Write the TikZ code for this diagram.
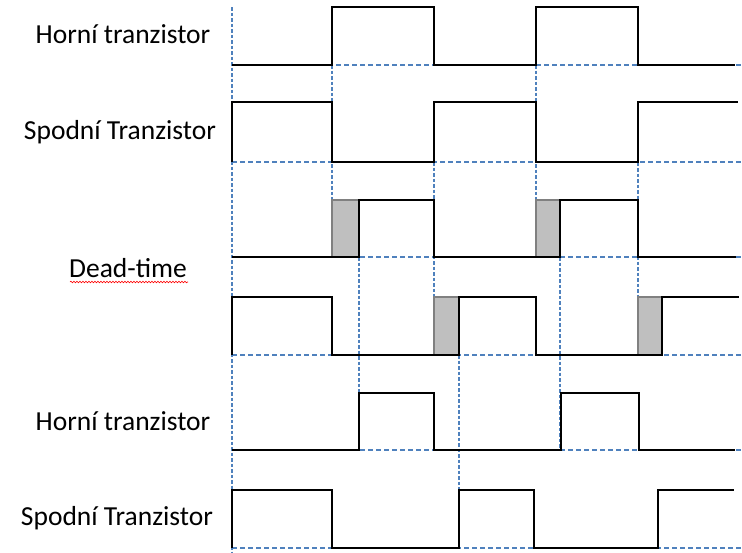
\documentclass[tikz,border=0pt]{standalone}
\usepackage{fontspec}
\setmainfont{Carlito}
\usetikzlibrary{decorations.pathmorphing}
\definecolor{gridblue}{RGB}{79,129,189}
\definecolor{deadgray}{RGB}{191,191,191}
\definecolor{deadedge}{RGB}{128,128,128}
\tikzset{
  signal/.style={draw=black, line width=2pt, line join=miter},
  hgrid/.style={draw=gridblue, line width=1.7pt, dash pattern=on 5pt off 3pt},
  vgrid/.style={draw=gridblue, line width=1.5pt, dash pattern=on 3.5pt off 2pt},
  deadbox/.style={fill=deadgray, draw=deadedge, line width=1.5pt},
  siglabel/.style={font=\fontsize{27.5}{32}\selectfont, anchor=base, inner sep=0pt}
}
\begin{document}
\begin{tikzpicture}[x=1pt,y=-1pt]
    \useasboundingbox (0,0) rectangle (742,552);

    % blue helper grid
    \foreach \y in {65,162,257,355,450,548}
        \draw[hgrid] (232,\y) -- (742,\y);
    \draw[vgrid] (232,7) -- (232,552);
    \foreach \x/\a/\b in {332/65/257, 536/65/257, 434/162/355, 638/102/355,
                          359/257/450, 560/257/450, 459/355/548}
        \draw[vgrid] (\x,\a) -- (\x,\b);

    % dead-time
    \draw[deadbox] (332,200) rectangle (359,257);
    \draw[deadbox] (536,200) rectangle (560,257);
    \draw[deadbox] (434,297) rectangle (459,355);
    \draw[deadbox] (638,297) rectangle (662,355);

    % signals
    \draw[signal] (232,65) -- (332,65) -- (332,7) -- (434,7) -- (434,65) -- (536,65)
        -- (536,7) -- (638,7) -- (638,65) -- (735,65);
    \draw[signal] (232,162) -- (232,102) -- (332,102) -- (332,162) -- (434,162) -- (434,102)
        -- (536,102) -- (536,162) -- (638,162) -- (638,102) -- (738,102);
    \draw[signal] (232,257) -- (359,257) -- (359,200) -- (434,200) -- (434,257) -- (560,257)
        -- (560,200) -- (638,200) -- (638,257) -- (736,257);
    \draw[signal] (232,355) -- (232,297) -- (332,297) -- (332,355) -- (459,355) -- (459,297)
        -- (536,297) -- (536,355) -- (662,355) -- (662,297) -- (739,297);
    \draw[signal] (232,450) -- (359,450) -- (359,393) -- (434,393) -- (434,450) -- (561,450)
        -- (561,393) -- (639,393) -- (639,450) -- (735,450);
    \draw[signal] (232,548) -- (232,490) -- (332,490) -- (332,548) -- (459,548) -- (459,490)
        -- (534,490) -- (534,548) -- (658,548) -- (658,490) -- (734,490);

    \node[siglabel] (horni1) at (123,43) {Horní tranzistor};
    \node[siglabel] (spodni1) at (120,139) {Spodní Tranzistor};
    \node[siglabel] (dead) at (128,277) {Dead-time};
    \node[siglabel] (horni2) at (123,430) {Horní tranzistor};
    \node[siglabel] (spodni2) at (117,525) {Spodní Tranzistor};
    \draw[red, line width=0.6pt, decorate, decoration={snake, amplitude=0.8pt, segment length=3pt}]
        (70,282) -- (188,282);
\end{tikzpicture}
\end{document}
